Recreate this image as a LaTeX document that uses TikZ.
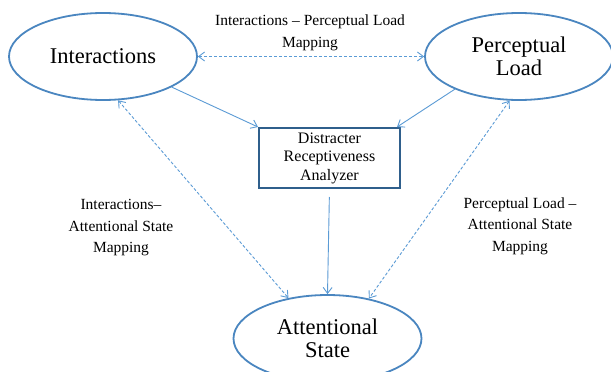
\documentclass[tikz,border=0pt]{standalone}
\usepackage{fontspec}
\setmainfont{Liberation Serif}
\usetikzlibrary{shapes.geometric,arrows.meta,calc}
\definecolor{ellblue}{HTML}{4A86C0}
\definecolor{arrblue}{HTML}{5B9BD5}
\definecolor{boxblue}{HTML}{2F5F8C}
\tikzset{
  ell/.style={ellipse,draw=ellblue,line width=1.8pt,minimum width=188pt,minimum height=87pt,inner sep=0pt,align=center,font=\fontsize{22.5}{23}\selectfont},
  boxnode/.style={rectangle,draw=boxblue,line width=2pt,minimum width=141pt,minimum height=60pt,align=center,inner sep=0pt,font=\fontsize{16}{18.5}\selectfont},
  lbl/.style={align=center,inner sep=0pt,font=\fontsize{15.5}{21.5}\selectfont},
  conn/.style={draw=arrblue,line width=0.9pt,-{Straight Barb[length=6pt,width=9pt]}},
  dconn/.style={draw=arrblue,line width=0.9pt,dash pattern=on 3pt off 2pt,{Straight Barb[length=6pt,width=9pt]}-{Straight Barb[length=6pt,width=9pt]}}
}
\begin{document}
\begin{tikzpicture}[x=1pt,y=-1pt]
\useasboundingbox (0,0) rectangle (611,372);
\clip (0,0) rectangle (611,372);
\fill[white] (0,0) rectangle (611,372);
\node[ell] (int) at (103,56.5) {Interactions};
\node[ell] (pl) at (519,56.5) {Perceptual\\Load};
\node[ell] (att) at (327.5,338.5) {Attentional\\State};
\node[boxnode] (box) at (329.5,158) {Distracter\\Receptiveness\\Analyzer};
\node[lbl] (l1) at (310,33) {Interactions -- Perceptual Load\\Mapping};
\node[lbl] (l2) at (121,228) {Interactions--\\Attentional State\\Mapping};
\node[lbl] (l3) at (520,226) {Perceptual Load --\\Attentional State\\Mapping};
\draw[conn] (int.-24) -- (box.north west);
\draw[conn] (pl.-153) -- ($(box.north east)+(-4,0)$);
\draw[conn,shorten <=8pt] (box.south) -- (att.north);
\draw[dconn] (int.east) -- (pl.west);
\draw[dconn] (int.-71) -- (att.134);
\draw[dconn] (pl.-102) -- (att.44);
\end{tikzpicture}
\end{document}
